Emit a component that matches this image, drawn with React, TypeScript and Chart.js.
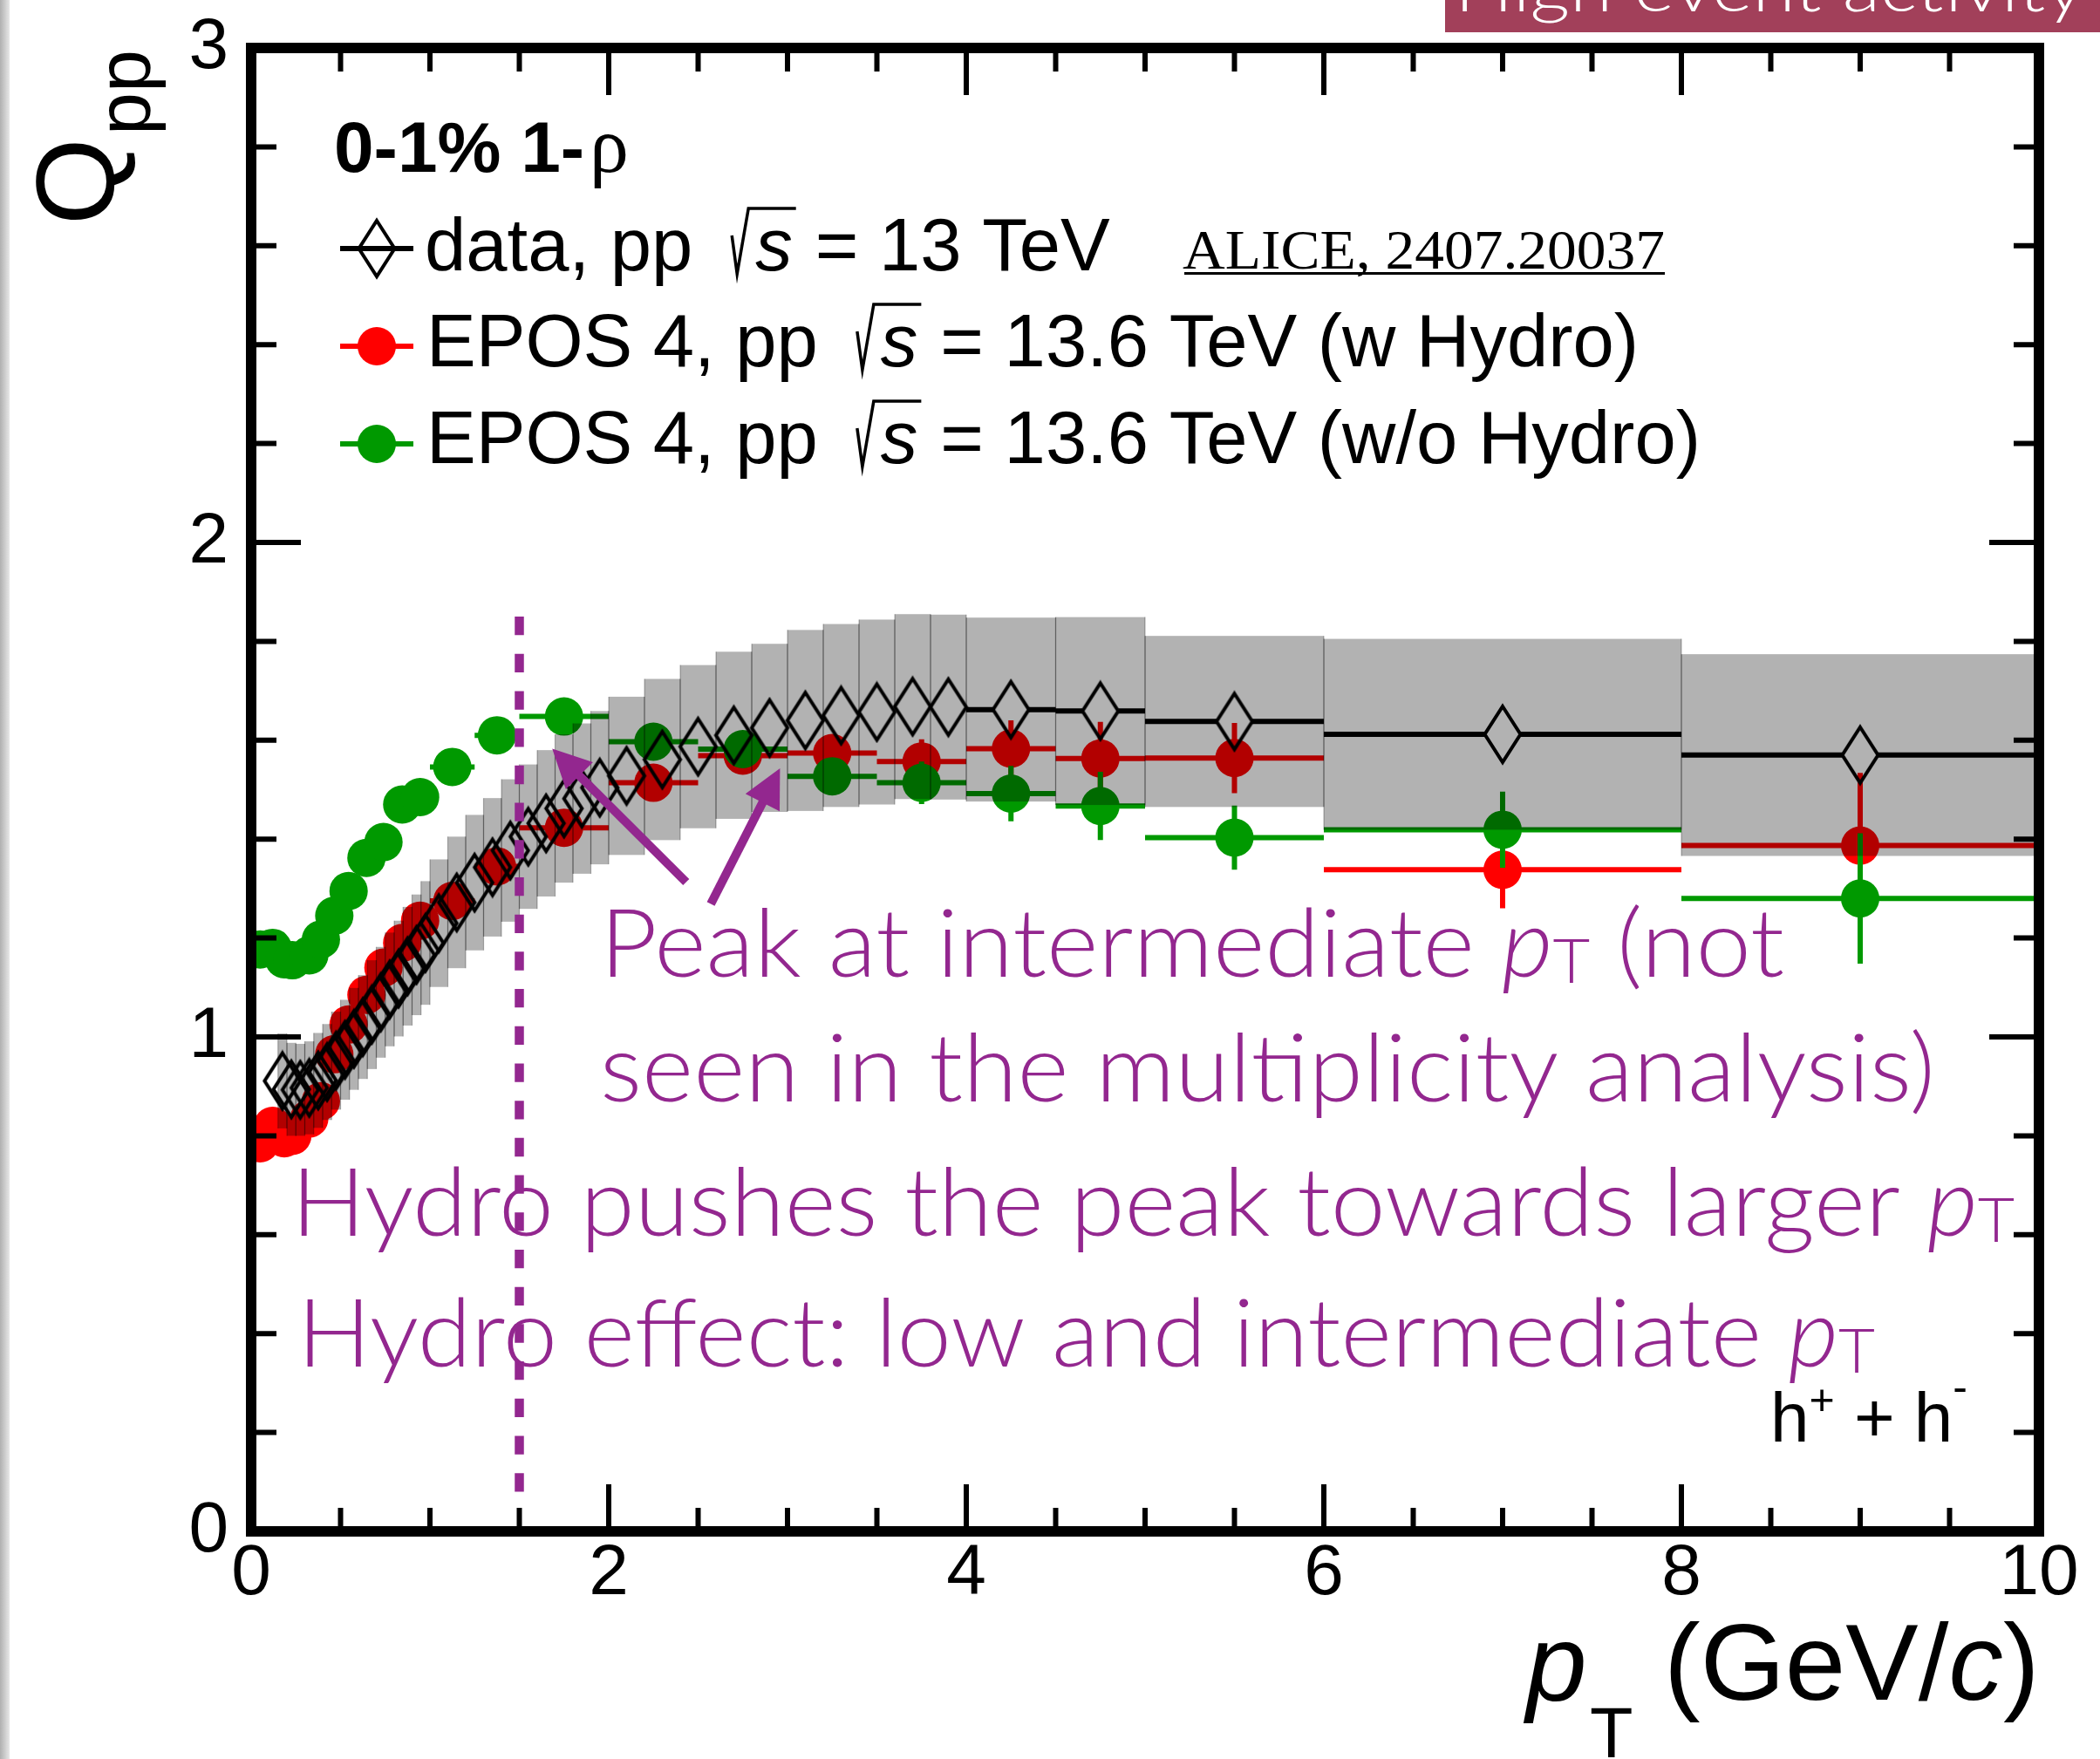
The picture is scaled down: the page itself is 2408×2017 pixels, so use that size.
import React, { useEffect, useRef } from 'react';
import { Chart, registerables } from 'chart.js';

Chart.register(...registerables);

// ---------------- data ----------------
const dataEdges = [0.15, 0.2, 0.25, 0.3, 0.35, 0.4, 0.45, 0.5, 0.55, 0.6, 0.65, 0.7, 0.75, 0.8, 0.85, 0.9, 0.95, 1.0,
  1.1, 1.2, 1.3, 1.4, 1.5, 1.6, 1.7, 1.8, 1.9, 2.0, 2.2, 2.4, 2.6, 2.8, 3.0, 3.2, 3.4, 3.6, 3.8, 4.0, 4.5, 5.0, 6.0, 8.0, 10.0];
const dataPt = [0.175, 0.225, 0.275, 0.325, 0.375, 0.425, 0.475, 0.525, 0.575, 0.625, 0.675, 0.725, 0.775, 0.825, 0.875, 0.925, 0.975,
  1.05, 1.15, 1.25, 1.35, 1.45, 1.55, 1.65, 1.75, 1.85, 1.95, 2.1, 2.3, 2.5, 2.7, 2.9, 3.1, 3.3, 3.5, 3.7, 3.9, 4.25, 4.75, 5.5, 7, 9];
const dataQ = [0.911, 0.894, 0.893, 0.897, 0.912, 0.929, 0.952, 0.974, 0.996, 1.020, 1.045, 1.070, 1.096, 1.118, 1.143, 1.166, 1.190,
  1.230, 1.272, 1.312, 1.343, 1.377, 1.405, 1.432, 1.462, 1.482, 1.504, 1.528, 1.561, 1.587, 1.610, 1.625, 1.640, 1.650, 1.657, 1.668, 1.667,
  1.662, 1.659, 1.638, 1.612, 1.570];
const dataSys = [0.096, 0.094, 0.093, 0.094, 0.096, 0.097, 0.099, 0.101, 0.103, 0.105, 0.110, 0.112, 0.115, 0.117, 0.120, 0.122, 0.125,
  0.129, 0.133, 0.137, 0.140, 0.144, 0.146, 0.148, 0.150, 0.152, 0.155, 0.160, 0.163, 0.165, 0.169, 0.170, 0.183, 0.185, 0.187, 0.187, 0.187,
  0.186, 0.190, 0.173, 0.193, 0.204];

const eposPt = [0.05, 0.12, 0.185, 0.23, 0.325, 0.39, 0.465, 0.545, 0.645, 0.74, 0.845, 0.945, 1.125, 1.375, 1.75, 2.25, 2.75, 3.25, 3.75, 4.25, 4.75, 5.5, 7, 9];
const eposPtErr = [0.05, 0.03, 0.03, 0.02, 0.05, 0.03, 0.04, 0.04, 0.05, 0.05, 0.05, 0.05, 0.125, 0.125, 0.25, 0.25, 0.25, 0.25, 0.25, 0.25, 0.25, 0.5, 1, 1];
const eposHydro = [0.785, 0.82, 0.795, 0.80, 0.835, 0.87, 0.965, 1.025, 1.085, 1.14, 1.19, 1.235, 1.275, 1.345, 1.423, 1.514, 1.569, 1.574, 1.557, 1.583, 1.563, 1.564, 1.338, 1.387];
const eposHydroErr = [0, 0, 0, 0, 0, 0, 0, 0, 0, 0, 0, 0, 0.01, 0.01, 0.015, 0.02, 0.025, 0.03, 0.045, 0.057, 0.074, 0.071, 0.078, 0.147];
const eposNoHydro = [1.177, 1.18, 1.157, 1.155, 1.165, 1.197, 1.245, 1.295, 1.362, 1.394, 1.47, 1.485, 1.546, 1.61, 1.648, 1.597, 1.582, 1.527, 1.514, 1.492, 1.467, 1.403, 1.419, 1.28];
const eposNoHydroErr = [0, 0, 0, 0, 0, 0, 0, 0, 0, 0, 0, 0, 0.01, 0.01, 0.015, 0.02, 0.025, 0.03, 0.043, 0.056, 0.069, 0.065, 0.077, 0.132];

const xRange = [0, 10];
const yRange = [0, 3];
const xMajorStep = 2;
const yMajorStep = 1;

// ---------------- styles ----------------
const SANS = "'Liberation Sans', Arial, Helvetica, sans-serif";
const SERIF = "'Liberation Serif', 'Times New Roman', serif";
const ANNO = "'Lato Light', Lato, 'Open Sans', sans-serif";
const PURPLE = '#93278f';
const RED = '#ff0000';
const GREEN = '#009900';

type Seg = { t: string; f: string; dy?: number; dx?: number };

function drawSegs(ctx: CanvasRenderingContext2D, segs: Seg[], x: number, y: number, color: string, targetW?: number): number {
  ctx.save();
  ctx.fillStyle = color;
  ctx.textAlign = 'left';
  ctx.textBaseline = 'alphabetic';
  const ws = segs.map((s) => { ctx.font = s.f; return ctx.measureText(s.t).width; });
  const total = ws.reduce((a, b) => a + b, 0) + segs.reduce((a, s) => a + (s.dx || 0), 0);
  const sx = targetW ? targetW / total : 1;
  ctx.translate(x, y);
  ctx.scale(sx, 1);
  let cx = 0;
  segs.forEach((s, i) => {
    cx += s.dx || 0;
    ctx.font = s.f;
    ctx.fillText(s.t, cx, s.dy || 0);
    cx += ws[i];
  });
  ctx.restore();
  return total * sx;
}

function makeDiamond(): HTMLCanvasElement {
  const c = document.createElement('canvas');
  c.width = 48;
  c.height = 72;
  const g = c.getContext('2d')!;
  g.strokeStyle = '#000';
  g.lineWidth = 4;
  g.lineJoin = 'miter';
  g.beginPath();
  g.moveTo(24, 4);
  g.lineTo(44.5, 36);
  g.lineTo(24, 68);
  g.lineTo(3.5, 36);
  g.closePath();
  g.stroke();
  return c;
}

function drawArrow(ctx: CanvasRenderingContext2D, tx: number, ty: number, hx: number, hy: number) {
  const dx = hx - tx, dy = hy - ty;
  const len = Math.hypot(dx, dy);
  const ux = dx / len, uy = dy / len;
  const hl = 44, hw = 22;
  const bx = hx - ux * hl, by = hy - uy * hl;
  ctx.save();
  ctx.strokeStyle = PURPLE;
  ctx.fillStyle = PURPLE;
  ctx.lineWidth = 10;
  ctx.lineCap = 'butt';
  ctx.beginPath();
  ctx.moveTo(tx, ty);
  ctx.lineTo(bx + ux * 4, by + uy * 4);
  ctx.stroke();
  ctx.beginPath();
  ctx.moveTo(hx, hy);
  ctx.lineTo(bx - uy * hw, by + ux * hw);
  ctx.lineTo(bx + uy * hw, by - ux * hw);
  ctx.closePath();
  ctx.fill();
  ctx.restore();
}

function legendRow(ctx: CanvasRenderingContext2D, y: number, lead: string, leadX: number, tail: string) {
  const f = `85px ${SANS}`;
  const fi = `italic 85px ${SANS}`;
  ctx.font = f;
  const w = ctx.measureText(lead).width;
  drawSegs(ctx, [{ t: lead, f }], leadX, y, '#000');
  const sq = leadX + w + 45;
  ctx.font = fi;
  const sw = ctx.measureText('s').width;
  const sX = sq + 27;
  ctx.save();
  ctx.strokeStyle = '#000';
  ctx.lineWidth = 3.5;
  ctx.lineJoin = 'miter';
  ctx.beginPath();
  ctx.moveTo(sq, y - 40);
  ctx.lineTo(sq + 6, y + 4);
  ctx.lineTo(sq + 19, y - 71);
  ctx.lineTo(sX + sw + 4, y - 71);
  ctx.stroke();
  ctx.restore();
  drawSegs(ctx, [{ t: 's', f: fi }], sX, y, '#000');
  drawSegs(ctx, [{ t: tail, f }], sX + sw + 26, y, '#000');
}

export default function App() {
  const ref = useRef<HTMLCanvasElement>(null);

  useEffect(() => {
    document.body.style.margin = '0';
    document.body.style.overflow = 'hidden';
    const canvas = ref.current!;
    const diamond = makeDiamond();

    const plugin = {
      id: 'rootStyle',
      beforeDraw(chart: any) {
        const ctx: CanvasRenderingContext2D = chart.ctx;
        ctx.save();
        ctx.fillStyle = '#fff';
        ctx.fillRect(0, 0, chart.width, chart.height);
        const g = ctx.createLinearGradient(0, 0, 11, 0);
        g.addColorStop(0, '#b0b0b0');
        g.addColorStop(1, '#e8e8e8');
        ctx.fillStyle = g;
        ctx.fillRect(0, 0, 11, chart.height);
        ctx.fillStyle = '#a2405a';
        ctx.fillRect(1657, 0, chart.width - 1657, 37);
        ctx.restore();
        drawSegs(ctx, [{ t: 'High event activity', f: `300 74px ${ANNO}` }], 1668, 13, '#ffffff', 722);
      },
      beforeDatasetDraw(chart: any, args: any) {
        const ctx: CanvasRenderingContext2D = chart.ctx;
        const xs = chart.scales.x, ys = chart.scales.y;
        ctx.save();
        if (args.index === 0) {
          // systematic boxes drawn over the model points
          for (let i = 0; i < dataPt.length; i++) {
            const x0 = xs.getPixelForValue(dataEdges[i]);
            const x1 = xs.getPixelForValue(dataEdges[i + 1]);
            const yt = ys.getPixelForValue(dataQ[i] + dataSys[i]);
            const yb = ys.getPixelForValue(dataQ[i] - dataSys[i]);
            ctx.fillStyle = 'rgba(0,0,0,0.3)';
            ctx.fillRect(x0, yt, x1 - x0, yb - yt);
            ctx.strokeStyle = 'rgba(0,0,0,0.28)';
            ctx.lineWidth = 1.2;
            ctx.beginPath();
            ctx.moveTo(x0, yt); ctx.lineTo(x0, yb);
            ctx.moveTo(x1, yt); ctx.lineTo(x1, yb);
            ctx.stroke();
          }
          // bin-width bars (outside the marker)
          ctx.strokeStyle = '#000';
          ctx.lineWidth = 6;
          ctx.beginPath();
          for (let i = 0; i < dataPt.length; i++) {
            const x0 = xs.getPixelForValue(dataEdges[i]);
            const x1 = xs.getPixelForValue(dataEdges[i + 1]);
            const xc = xs.getPixelForValue(dataPt[i]);
            const y = ys.getPixelForValue(dataQ[i]);
            if (xc - x0 > 21) {
              ctx.moveTo(x0, y); ctx.lineTo(xc - 20.5, y);
              ctx.moveTo(xc + 20.5, y); ctx.lineTo(x1, y);
            }
          }
          ctx.stroke();
        } else {
          const vals = args.index === 1 ? eposNoHydro : eposHydro;
          const errs = args.index === 1 ? eposNoHydroErr : eposHydroErr;
          ctx.strokeStyle = args.index === 1 ? GREEN : RED;
          ctx.lineWidth = 6;
          ctx.beginPath();
          for (let i = 0; i < eposPt.length; i++) {
            const xl = xs.getPixelForValue(eposPt[i] - eposPtErr[i]);
            const xr = xs.getPixelForValue(eposPt[i] + eposPtErr[i]);
            const xc = xs.getPixelForValue(eposPt[i]);
            const y = ys.getPixelForValue(vals[i]);
            ctx.moveTo(xl, y); ctx.lineTo(xr, y);
            if (errs[i] > 0) {
              ctx.moveTo(xc, ys.getPixelForValue(vals[i] - errs[i]));
              ctx.lineTo(xc, ys.getPixelForValue(vals[i] + errs[i]));
            }
          }
          ctx.stroke();
        }
        ctx.restore();
      },
      afterDatasetsDraw(chart: any) {
        const ctx: CanvasRenderingContext2D = chart.ctx;
        const a = chart.chartArea;
        const xs = chart.scales.x, ys = chart.scales.y;
        ctx.save();
        // inward ticks on all four sides
        ctx.strokeStyle = '#000';
        ctx.lineWidth = 6;
        ctx.lineCap = 'butt';
        ctx.beginPath();
        for (let k = 1; k < 20; k++) {
          const px = xs.getPixelForValue(k * 0.5);
          const len = k % 4 === 0 ? 54 : 27;
          ctx.moveTo(px, a.bottom); ctx.lineTo(px, a.bottom - len);
          ctx.moveTo(px, a.top); ctx.lineTo(px, a.top + len);
        }
        for (let k = 1; k < 15; k++) {
          const py = ys.getPixelForValue(k * 0.2);
          const len = k % 5 === 0 ? 57 : 29;
          ctx.moveTo(a.left, py); ctx.lineTo(a.left + len, py);
          ctx.moveTo(a.right, py); ctx.lineTo(a.right - len, py);
        }
        ctx.stroke();
        // frame
        ctx.lineWidth = 12;
        ctx.lineJoin = 'miter';
        ctx.strokeRect(a.left, a.top, a.right - a.left, a.bottom - a.top);

        // dashed purple line at pT = 1.5
        ctx.strokeStyle = PURPLE;
        ctx.lineWidth = 10.5;
        ctx.setLineDash([21.3, 21.4]);
        ctx.beginPath();
        ctx.moveTo(xs.getPixelForValue(1.5), ys.getPixelForValue(1.85));
        ctx.lineTo(xs.getPixelForValue(1.5), ys.getPixelForValue(0.079));
        ctx.stroke();
        ctx.setLineDash([]);
        ctx.restore();

        // arrows
        drawArrow(ctx, xs.getPixelForValue(2.433), ys.getPixelForValue(1.313), xs.getPixelForValue(1.684), ys.getPixelForValue(1.583));
        drawArrow(ctx, xs.getPixelForValue(2.571), ys.getPixelForValue(1.269), xs.getPixelForValue(2.958), ys.getPixelForValue(1.543));

        // purple annotations
        const F = `300 108px ${ANNO}`;
        const FI = `italic 300 108px ${ANNO}`;
        const FS = `300 70px ${ANNO}`;
        drawSegs(ctx, [{ t: 'Peak at intermediate ', f: F }, { t: 'p', f: FI }, { t: 'T', f: FS, dy: 7 }, { t: ' (not', f: F }], 688, 1120, PURPLE, 1358);
        drawSegs(ctx, [{ t: 'seen in the multiplicity analysis)', f: F }], 688, 1263, PURPLE, 1531);
        drawSegs(ctx, [{ t: 'Hydro pushes the peak towards larger ', f: F }, { t: 'p', f: FI }, { t: 'T', f: FS, dy: 7 }], 334, 1417, PURPLE, 1976);
        drawSegs(ctx, [{ t: 'Hydro effect: low and intermediate ', f: F }, { t: 'p', f: FI }, { t: 'T', f: FS, dy: 7 }], 341, 1567, PURPLE, 1809);

        // header text
        drawSegs(ctx, [{ t: '0-1% 1-', f: `bold 82px ${SANS}` }, { t: 'ρ', f: `90px ${SERIF}`, dx: 6 }], 383, 197, '#000');

        // legend
        ctx.save();
        ctx.strokeStyle = '#000';
        ctx.lineWidth = 6;
        ctx.beginPath(); ctx.moveTo(390, 285); ctx.lineTo(474, 285); ctx.stroke();
        ctx.drawImage(diamond, 432 - 24, 285 - 36);
        ctx.strokeStyle = RED;
        ctx.beginPath(); ctx.moveTo(390, 397); ctx.lineTo(474, 397); ctx.stroke();
        ctx.fillStyle = RED;
        ctx.beginPath(); ctx.arc(432, 397, 22, 0, Math.PI * 2); ctx.fill();
        ctx.strokeStyle = GREEN;
        ctx.beginPath(); ctx.moveTo(390, 509); ctx.lineTo(474, 509); ctx.stroke();
        ctx.fillStyle = GREEN;
        ctx.beginPath(); ctx.arc(432, 509, 22, 0, Math.PI * 2); ctx.fill();
        ctx.restore();
        legendRow(ctx, 310, 'data, pp', 487, '= 13 TeV');
        legendRow(ctx, 420, 'EPOS 4, pp', 489, '= 13.6 TeV (w Hydro)');
        legendRow(ctx, 531, 'EPOS 4, pp', 489, '= 13.6 TeV (w/o Hydro)');

        // reference
        drawSegs(ctx, [{ t: 'ALICE, 2407.20037', f: `64px ${SERIF}` }], 1356, 308, '#000', 553);
        ctx.fillStyle = '#000';
        ctx.fillRect(1358, 312, 551, 3);

        // h+ + h-
        drawSegs(ctx, [
          { t: 'h', f: `80px ${SANS}` },
          { t: '+', f: `50px ${SANS}`, dy: -31 },
          { t: ' + h', f: `80px ${SANS}` },
          { t: '-', f: `50px ${SANS}`, dy: -46 },
        ], 2030, 1653, '#000');

        // y title Q_pp (rotated)
        ctx.save();
        ctx.translate(131, 258);
        ctx.rotate(-Math.PI / 2);
        ctx.fillStyle = '#000';
        ctx.textBaseline = 'alphabetic';
        ctx.font = `128px ${SANS}`;
        ctx.fillText('Q', 0, 0);
        ctx.font = `88px ${SANS}`;
        ctx.fillText('pp', 103, 41);
        ctx.restore();

        // x title p_T (GeV/c)
        drawSegs(ctx, [{ t: 'p', f: `italic 125px ${SANS}` }], 1750, 1950, '#000');
        drawSegs(ctx, [{ t: 'T', f: `81px ${SANS}` }], 1823, 2015, '#000');
        drawSegs(ctx, [
          { t: '(GeV/', f: `125px ${SANS}` },
          { t: 'c', f: `italic 125px ${SANS}` },
          { t: ')', f: `125px ${SANS}` },
        ], 1908, 1949, '#000');
      },
    };

    const chart = new Chart(canvas, {
      type: 'scatter',
      data: {
        datasets: [
          {
            label: 'data, pp 13 TeV',
            data: dataPt.map((x, i) => ({ x, y: dataQ[i] })),
            pointStyle: diamond as any,
            pointRadius: 20,
            showLine: false,
            order: 0,
          },
          {
            label: 'EPOS 4 w/o Hydro',
            data: eposPt.map((x, i) => ({ x, y: eposNoHydro[i] })),
            pointStyle: 'circle',
            pointRadius: 22,
            pointBorderWidth: 0,
            backgroundColor: GREEN,
            borderColor: GREEN,
            showLine: false,
            order: 1,
          },
          {
            label: 'EPOS 4 w Hydro',
            data: eposPt.map((x, i) => ({ x, y: eposHydro[i] })),
            pointStyle: 'circle',
            pointRadius: 22,
            pointBorderWidth: 0,
            backgroundColor: RED,
            borderColor: RED,
            showLine: false,
            order: 2,
          },
        ],
      },
      options: {
        animation: false,
        responsive: false,
        maintainAspectRatio: false,
        devicePixelRatio: 1,
        events: [],
        layout: { padding: { left: 0, right: 70, top: 55, bottom: 0 } },
        plugins: { legend: { display: false }, tooltip: { enabled: false } },
        scales: {
          x: {
            type: 'linear',
            position: 'bottom',
            min: xRange[0],
            max: xRange[1],
            grid: { display: false, drawTicks: false },
            border: { display: false },
            ticks: {
              stepSize: xMajorStep,
              autoSkip: false,
              maxRotation: 0,
              padding: 0,
              color: '#000',
              font: { family: SANS, size: 82 },
            },
            afterFit: (s: any) => { s.height = 261; },
          },
          y: {
            type: 'linear',
            position: 'left',
            min: yRange[0],
            max: yRange[1],
            grid: { display: false, drawTicks: false },
            border: { display: false },
            ticks: {
              stepSize: yMajorStep,
              padding: 26,
              color: '#000',
              font: { family: SANS, size: 82, lineHeight: 0.6 },
            },
            afterFit: (s: any) => { s.width = 288; },
          },
        },
      },
      plugins: [plugin],
    } as any);

    return () => chart.destroy();
  }, []);

  return (
    <div style={{ width: 2408, height: 2017, position: 'relative', background: '#fff' }}>
      <canvas ref={ref} width={2408} height={2017} style={{ display: 'block', width: 2408, height: 2017 }} />
    </div>
  );
}
